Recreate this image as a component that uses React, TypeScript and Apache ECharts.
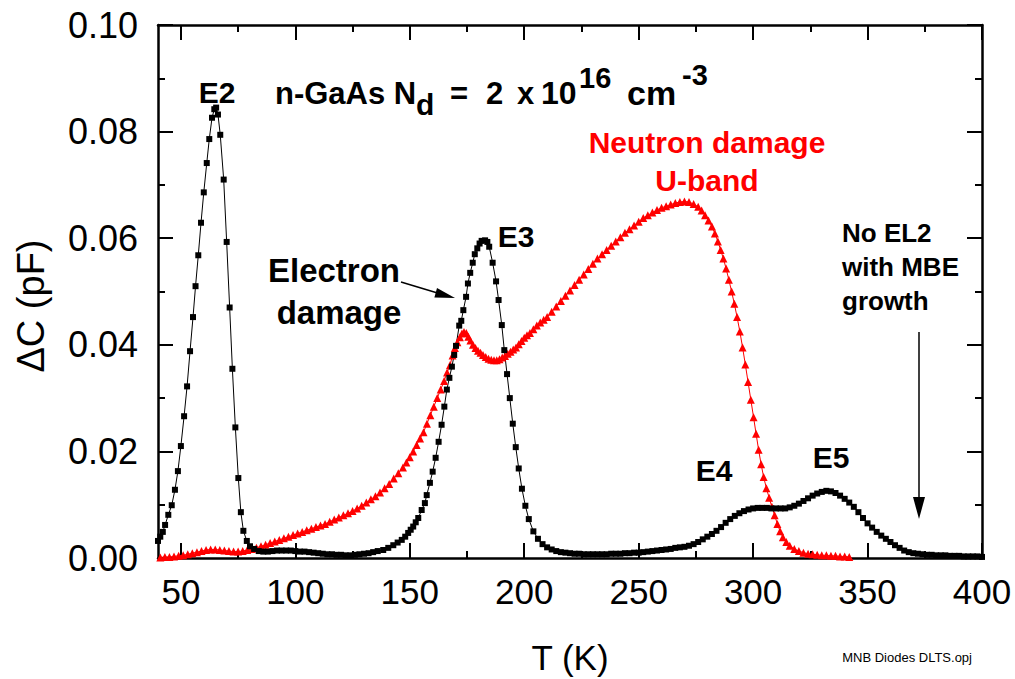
import React, { useEffect, useRef } from "react";
import * as echarts from "echarts";

// Temperature scans: [T (K), ΔC (pF)]
const electronDamage: [number, number][] = [
  [40.0, 0.0032], [41.0, 0.004], [42.1, 0.0049], [43.1, 0.0062], [44.5, 0.0081], [46.0, 0.0099],
  [47.4, 0.0128], [48.7, 0.0163], [50.0, 0.021], [51.4, 0.0266], [52.7, 0.0322], [54.0, 0.0388],
  [55.3, 0.0452], [56.4, 0.051], [57.6, 0.0568], [58.8, 0.0629], [60.0, 0.0686], [61.3, 0.0741],
  [62.4, 0.0786], [63.6, 0.0826], [64.6, 0.0842], [65.4, 0.0845], [66.2, 0.0832], [67.2, 0.0794],
  [68.7, 0.071], [70.0, 0.0593], [71.3, 0.047], [72.5, 0.0355], [73.8, 0.0245], [75.1, 0.015],
  [76.2, 0.0086], [77.3, 0.0051], [78.8, 0.0032], [80.2, 0.0022], [82, 0.0017], [84, 0.0013],
  [86, 0.0012], [88, 0.0012], [90, 0.0013], [92, 0.0014], [94, 0.0014], [96, 0.0014], [98, 0.0014],
  [100, 0.0013], [102, 0.0012], [104, 0.0012], [106, 0.0011], [108, 0.001], [110, 0.0009],
  [112, 0.0008], [114, 0.0007], [116, 0.0007], [118, 0.0006], [120, 0.0006], [122, 0.0005],
  [124, 0.0005], [126, 0.0006], [128, 0.0007], [130, 0.0008], [132, 0.0009], [134, 0.0011],
  [136, 0.0013], [138.4, 0.0015], [140.6, 0.0019], [142.8, 0.0024], [144.7, 0.0029], [146.5, 0.0034],
  [148.0, 0.004], [149.3, 0.0047], [150.4, 0.0053], [151.5, 0.0059], [152.6, 0.0067], [153.7, 0.0075],
  [155.2, 0.009], [156.6, 0.0103], [157.4, 0.0118], [158.8, 0.0141], [160.0, 0.0162], [161.3, 0.0188],
  [162.6, 0.0218], [163.9, 0.025], [165.1, 0.0284], [166.2, 0.0316], [167.3, 0.0338], [168.4, 0.0359],
  [169.4, 0.0381], [170.2, 0.0398], [171.6, 0.0436], [172.5, 0.0445], [173.4, 0.0465], [174.6, 0.049],
  [175.4, 0.0515], [176.4, 0.0535], [177.5, 0.0554], [178.4, 0.057], [179.5, 0.0581], [180.5, 0.059],
  [181.4, 0.0595], [182.9, 0.0596], [183.9, 0.0593], [184.7, 0.0584], [186.2, 0.0554], [187.7, 0.0519],
  [188.8, 0.0484], [190.2, 0.0437], [191.3, 0.039], [192.5, 0.0345], [193.7, 0.03], [195.0, 0.0252],
  [196.3, 0.0208], [197.6, 0.0168], [199.0, 0.013], [200.5, 0.0098], [202.0, 0.0073], [204, 0.005],
  [206, 0.0036], [208, 0.0026], [210, 0.002], [212, 0.0016], [214, 0.0013], [216, 0.0011],
  [218, 0.001], [220, 0.0009], [222, 0.0008], [224, 0.0008], [226, 0.0007], [228, 0.0007],
  [230, 0.0007], [232, 0.0007], [234, 0.0007], [236, 0.0007], [238, 0.0008], [240, 0.0008],
  [242, 0.0008], [244, 0.0009], [246, 0.0009], [248, 0.001], [250, 0.001], [252, 0.0011],
  [254, 0.0012], [256, 0.0013], [258, 0.0014], [260, 0.0015], [262, 0.0016], [264, 0.0017],
  [266, 0.0019], [268, 0.002], [270, 0.0021], [272, 0.0023], [274, 0.0026], [276, 0.003],
  [278, 0.0035], [280, 0.004], [282, 0.0045], [284, 0.0051], [286, 0.0058], [288, 0.0066],
  [290, 0.0073], [292, 0.0079], [294, 0.0084], [296, 0.0088], [298, 0.0091], [300, 0.0093],
  [302, 0.0094], [304, 0.0094], [306, 0.0094], [308, 0.0093], [310, 0.0093], [312, 0.0093],
  [314, 0.0093], [316, 0.0095], [318, 0.0098], [320, 0.0102], [322, 0.0107], [324, 0.0112],
  [326, 0.0117], [328, 0.0121], [330, 0.0124], [332, 0.0126], [334, 0.0125], [336, 0.0122],
  [338, 0.0117], [340, 0.0111], [342, 0.0104], [344, 0.0096], [346, 0.0086], [348, 0.0075],
  [350, 0.0065], [352, 0.0057], [354, 0.0049], [356, 0.0042], [358, 0.0036], [360, 0.003],
  [362, 0.0024], [364, 0.0019], [366, 0.0014], [368, 0.0011], [370, 0.0009], [372, 0.0008],
  [374, 0.0007], [376, 0.0006], [378, 0.0006], [380, 0.0005], [382, 0.0005], [384, 0.0005],
  [386, 0.0004], [388, 0.0004], [390, 0.0004], [392, 0.0003], [394, 0.0003], [396, 0.0003],
  [398, 0.0003], [400, 0.0002],
];

const neutronDamage: [number, number][] = [
  [41, 0.0001], [43, 0.0002], [45, 0.0002], [47, 0.0003], [49, 0.0004], [51, 0.0005], [53, 0.0007],
  [55, 0.0009], [57, 0.0011], [59, 0.0013], [61, 0.0015], [63, 0.0016], [65, 0.0016], [67, 0.0015],
  [69, 0.0014], [71, 0.0013], [73, 0.0012], [75, 0.0012], [77, 0.0013], [79, 0.0015], [81, 0.0017],
  [83, 0.0019], [85, 0.0022], [87, 0.0025], [89, 0.0028], [91, 0.0031], [93, 0.0034], [95, 0.0037],
  [97, 0.004], [99, 0.0043], [101, 0.0046], [103, 0.0049], [105, 0.0052], [107, 0.0055], [109, 0.0058],
  [111, 0.0061], [113, 0.0064], [115, 0.0068], [117, 0.0072], [119, 0.0076], [121, 0.008], [123, 0.0084],
  [125, 0.0088], [127, 0.0093], [129, 0.0098], [131, 0.0104], [133, 0.011], [135, 0.0116], [137, 0.0123],
  [139, 0.0131], [141, 0.0139], [143, 0.0149], [145, 0.0159], [147, 0.017], [148.5, 0.0179],
  [150, 0.0189], [151.5, 0.02], [153, 0.0212], [154.5, 0.0224], [156, 0.0236], [157.5, 0.0252],
  [159, 0.0268], [160.5, 0.0284], [162, 0.03], [163.5, 0.0316], [165, 0.0332], [166.3, 0.0348],
  [167.6, 0.0362], [168.7, 0.038], [169.7, 0.0394], [170.8, 0.0405], [171.9, 0.0414], [172.8, 0.0421],
  [173.7, 0.0424], [174.7, 0.0422], [175.6, 0.0415], [176.5, 0.0408], [177.6, 0.04], [178.7, 0.0394],
  [179.8, 0.0389], [180.9, 0.0385], [182.0, 0.0381], [183.2, 0.0377], [184.4, 0.0374], [185.6, 0.0372],
  [186.8, 0.0371], [188.0, 0.0371], [189.2, 0.0373], [190.4, 0.0376], [191.6, 0.0379], [192.8, 0.0383],
  [194.0, 0.0387], [195.2, 0.0391], [196.4, 0.0395], [197.6, 0.0401], [198.8, 0.0407], [200.0, 0.0413],
  [201.2, 0.0418], [202.5, 0.0422], [204.0, 0.0429], [205.5, 0.0436], [207.0, 0.0442], [208.5, 0.0447],
  [210, 0.0452], [212, 0.0462], [214, 0.0472], [216, 0.0482], [218, 0.0492], [220, 0.0502],
  [222, 0.0512], [224, 0.0522], [226, 0.0532], [228, 0.0542], [230, 0.0552], [232, 0.0562],
  [234, 0.057], [236, 0.0578], [238, 0.0586], [240, 0.0594], [242, 0.0602], [244, 0.061],
  [246, 0.0617], [248, 0.0624], [250, 0.0631], [252, 0.0638], [254, 0.0643], [256, 0.0648],
  [258, 0.0653], [260, 0.0657], [262, 0.066], [264, 0.0663], [266, 0.0666], [268, 0.0668],
  [270, 0.0669], [272, 0.0668], [274, 0.0664], [276, 0.0659], [277.5, 0.0652], [279, 0.0643],
  [280.5, 0.0633], [282, 0.0622], [283.3, 0.0609], [284.6, 0.0594], [285.8, 0.0578], [287.0, 0.0562],
  [288.2, 0.0543], [289.4, 0.0522], [290.6, 0.05], [291.8, 0.0477], [293.0, 0.0452], [294.2, 0.0425],
  [295.4, 0.0395], [296.6, 0.0363], [297.8, 0.033], [299.0, 0.0297], [300.2, 0.0264], [301.3, 0.0233],
  [302.4, 0.0203], [303.5, 0.0176], [304.6, 0.0152], [305.8, 0.0131], [307.0, 0.0113], [308.2, 0.0096],
  [309.4, 0.008], [310.6, 0.0064], [311.8, 0.005], [313.0, 0.0039], [314.5, 0.003], [316, 0.0023],
  [318, 0.0017], [320, 0.0013], [322, 0.001], [324, 0.0008], [326, 0.0007], [328, 0.0006],
  [330, 0.0005], [332, 0.0005], [334, 0.0004], [336, 0.0004], [338, 0.0003], [340, 0.0003],
  [342, 0.0002],
];

const xMajorTicks = [50, 100, 150, 200, 250, 300, 350, 400];
const xMinorTicks = [75, 125, 175, 225, 275, 325, 375];

const FONT = '"Liberation Sans", Arial, Helvetica, sans-serif';

function label(
  x: number,
  y: number,
  text: string,
  size: number,
  opts: { bold?: boolean; color?: string; align?: string; rotation?: number } = {}
) {
  const align = opts.align ?? "center";
  return {
    type: "text",
    x,
    y,
    rotation: opts.rotation ?? 0,
    z: 100,
    style: {
      text,
      fill: opts.color ?? "#000",
      font: `${opts.bold === false ? "" : "bold "}${size}px ${FONT}`,
      align,
      verticalAlign: "middle",
      textAlign: align,
      textVerticalAlign: "middle",
    },
  };
}

function xAxisDef(position: "bottom" | "top", ticks: number[], len: number, labels: boolean, line: boolean) {
  return {
    type: "value",
    position,
    min: 40,
    max: 400,
    axisLine: { show: line, onZero: false, lineStyle: { color: "#000", width: 2.5 } },
    axisTick: { show: true, inside: true, length: len, customValues: ticks, lineStyle: { color: "#000", width: 2 } },
    axisLabel: {
      show: labels,
      customValues: ticks,
      margin: 16,
      color: "#000",
      fontSize: 35,
      fontFamily: FONT,
    },
    splitLine: { show: false },
  };
}

function yAxisDef(position: "left" | "right", labels: boolean) {
  return {
    type: "value",
    position,
    min: 0,
    max: 0.1,
    interval: 0.02,
    axisLine: { show: true, onZero: false, lineStyle: { color: "#000", width: 2.5 } },
    axisTick: { show: true, inside: true, length: 15, lineStyle: { color: "#000", width: 2 } },
    minorTick: { show: true, splitNumber: 2, length: 7, lineStyle: { color: "#000", width: 2 } },
    axisLabel: {
      show: labels,
      margin: 20,
      color: "#000",
      fontSize: 36,
      fontFamily: FONT,
      formatter: (v: number) => v.toFixed(2),
      showMinLabel: true,
      showMaxLabel: true,
    },
    splitLine: { show: false },
    minorSplitLine: { show: false },
  };
}

export default function App() {
  const ref = useRef<HTMLDivElement>(null);

  useEffect(() => {
    if (!ref.current) return;
    const chart = echarts.init(ref.current, undefined, { renderer: "svg" });

    const graphic: any[] = [
      // axis titles
      label(570, 657, "T (K)", 35, { bold: false }),
      label(31, 306, "ΔC (pF)", 38, { bold: false, rotation: Math.PI / 2 }),
      label(972, 657, "MNB Diodes DLTS.opj", 13, { bold: false, align: "right" }),

      // sample description with sub/superscripts
      label(275, 93, "n-GaAs N", 31, { align: "left" }),
      label(416, 104.5, "d", 30, { align: "left" }),
      label(450, 93, "=", 31, { align: "left" }),
      label(486, 93, "2", 31, { align: "left" }),
      label(517, 93, "x", 31, { align: "left" }),
      label(541, 93, "10", 32, { align: "left" }),
      label(579, 78, "16", 29, { align: "left" }),
      label(627, 93, "cm", 34, { align: "left" }),
      label(682, 75, "-3", 29, { align: "left" }),

      // peak labels
      label(217, 92, "E2", 30),
      label(516, 236, "E3", 30),
      label(714, 470, "E4", 30),
      label(831, 457, "E5", 30),

      label(334, 270, "Electron", 33),
      label(339, 312, "damage", 33),

      label(707, 142, "Neutron damage", 30, { color: "#ff0000" }),
      label(707, 180, "U-band", 30, { color: "#ff0000" }),

      label(842, 233, "No EL2", 26, { align: "left" }),
      label(842, 267, "with MBE", 26, { align: "left" }),
      label(842, 301, "growth", 26, { align: "left" }),

      // arrow: electron damage -> E3 flank
      {
        type: "line",
        z: 100,
        shape: { x1: 401, y1: 282, x2: 440, y2: 293.8 },
        style: { stroke: "#000", lineWidth: 1.5 },
      },
      {
        type: "polygon",
        z: 100,
        shape: { points: [[455, 298], [434.4, 297.5], [437, 287.9]] },
        style: { fill: "#000" },
      },
      // arrow: no EL2 peak
      {
        type: "line",
        z: 100,
        shape: { x1: 919, y1: 332, x2: 919, y2: 500 },
        style: { stroke: "#000", lineWidth: 1.5 },
      },
      {
        type: "polygon",
        z: 100,
        shape: { points: [[913, 497], [925, 497], [919, 519]] },
        style: { fill: "#000" },
      },
    ];

    chart.setOption({
      animation: false,
      backgroundColor: "#fff",
      grid: { left: 158, top: 25, right: 33, bottom: 121, containLabel: false, outerBoundsMode: "none" },
      xAxis: [
        xAxisDef("bottom", xMajorTicks, 15, true, true),
        xAxisDef("bottom", xMinorTicks, 7, false, false),
        xAxisDef("top", xMajorTicks, 15, false, true),
        xAxisDef("top", xMinorTicks, 7, false, false),
      ],
      yAxis: [yAxisDef("left", true), yAxisDef("right", false)],
      series: [
        {
          name: "Neutron damage",
          type: "line",
          data: neutronDamage,
          xAxisIndex: 0,
          yAxisIndex: 0,
          symbol: "triangle",
          symbolSize: 8,
          showSymbol: true,
          itemStyle: { color: "#ff0000" },
          lineStyle: { color: "#ff0000", width: 1 },
          silent: true,
        },
        {
          name: "Electron damage",
          type: "line",
          data: electronDamage,
          xAxisIndex: 0,
          yAxisIndex: 0,
          symbol: "rect",
          symbolSize: 6,
          showSymbol: true,
          itemStyle: { color: "#000" },
          lineStyle: { color: "#000", width: 1 },
          silent: true,
        },
      ],
      graphic,
    });

    return () => chart.dispose();
  }, []);

  return (
    <div
      ref={ref}
      style={{ position: "fixed", left: 0, top: 0, width: 1015, height: 679, background: "#fff" }}
    />
  );
}
